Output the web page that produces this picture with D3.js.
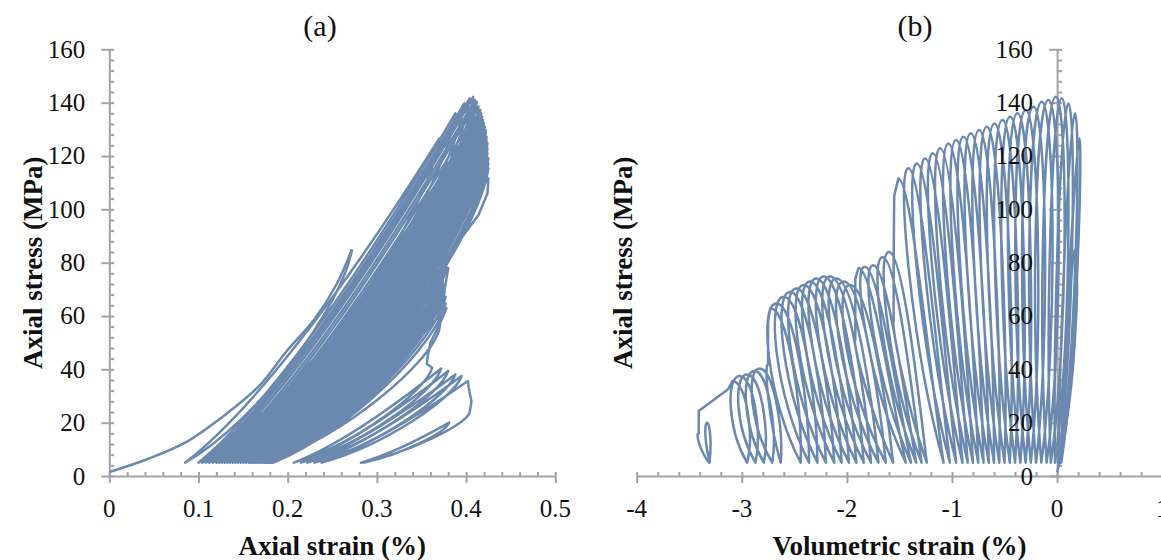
<!DOCTYPE html>
<html>
<head>
<meta charset="utf-8">
<script src="https://cdn.jsdelivr.net/npm/d3@7"></script>
<style>
  body { margin: 0; background: #fff; }
  svg { display: block; }
  text { font-family: "Liberation Serif", "Times New Roman", serif; fill: #111; }
</style>
</head>
<body>
<svg id="chart" width="1161" height="560"></svg>
<script>
// tick labels
const xTicksA = [0, 0.1, 0.2, 0.3, 0.4, 0.5];
const xTicksB = [-4, -3, -2, -1, 0, 1];
const yTicks = [0, 20, 40, 60, 80, 100, 120, 140, 160];

// cycles, in time order (stress in MPa, strains in %)
const valleyStress = 5;
const peakStress = [85, 126.6, 136, 139.7, 141.6, 142.2, 141, 140.3, 138.5, 137.2, 136, 134.7, 133.5,
  132.2, 131, 129.7, 128.5, 127.2, 126, 124.7, 122.9, 121, 119.1, 117.2, 115.4, 111.6,
  84, 82, 79, 78.5, 78,
  71.6, 72.9, 74.1, 74.8, 74.8, 74.1, 72.9, 71.6, 70.3, 69, 67.2, 64.7, 62.9,
  40.3, 39.4, 38.1, 37.5, 35.6,
  20];
const axialMin = [0, 0.085, 0.1, 0.104, 0.108, 0.112, 0.116, 0.12, 0.123, 0.126, 0.129, 0.132, 0.135,
  0.138, 0.141, 0.144, 0.147, 0.15, 0.153, 0.156, 0.158, 0.16, 0.162, 0.164, 0.166, 0.168,
  0.17, 0.172, 0.174, 0.175, 0.176,
  0.177, 0.178, 0.178, 0.179, 0.179, 0.18, 0.18, 0.181, 0.181, 0.182, 0.182, 0.183, 0.184,
  0.207, 0.215, 0.222, 0.23, 0.238,
  0.282];
const axialPeak = [0.272, 0.37, 0.388, 0.398, 0.404, 0.408, 0.41, 0.412, 0.414, 0.416, 0.417, 0.418, 0.419,
  0.42, 0.421, 0.422, 0.422, 0.423, 0.423, 0.424, 0.424, 0.424, 0.425, 0.425, 0.425, 0.425,
  0.372, 0.374, 0.376, 0.378, 0.38,
  0.366, 0.368, 0.37, 0.371, 0.372, 0.373, 0.374, 0.375, 0.375, 0.376, 0.377, 0.377, 0.378,
  0.372, 0.38, 0.388, 0.395, 0.402,
  0.381];
const volMin = [0, 0.04, 0.03, 0.01, -0.02, -0.06, -0.1, -0.15, -0.2, -0.25, -0.3, -0.35, -0.4,
  -0.45, -0.5, -0.55, -0.6, -0.65, -0.7, -0.75, -0.8, -0.85, -0.9, -0.96, -1.02, -1.08,
  -1.24, -1.29, -1.34, -1.39, -1.44,
  -1.56, -1.63, -1.7, -1.77, -1.84, -1.91, -1.98, -2.05, -2.12, -2.2, -2.28, -2.36, -2.44,
  -2.63, -2.71, -2.79, -2.87, -2.95,
  -3.31];
const volPeak = [0.17, 0.212, 0.171, 0.108, 0.045, -0.012, -0.083, -0.146, -0.225, -0.298, -0.377, -0.447, -0.52,
  -0.596, -0.669, -0.742, -0.821, -0.891, -0.961, -1.034, -1.113, -1.183, -1.256, -1.335, -1.415, -1.51,
  -1.6, -1.66, -1.75, -1.83, -1.89,
  -1.97, -2.03, -2.1, -2.16, -2.22, -2.29, -2.35, -2.41, -2.48, -2.54, -2.6, -2.67, -2.73,
  -2.83, -2.88, -2.95, -3.02, -3.09,
  -3.33];
const volLoopWidth = [0.03, 0.03, 0.05, 0.07, 0.09, 0.11, 0.12, 0.12, 0.12, 0.12, 0.12, 0.12, 0.12,
  0.12, 0.12, 0.12, 0.12, 0.12, 0.12, 0.12, 0.12, 0.12, 0.12, 0.12, 0.12, 0.12,
  0.13, 0.13, 0.13, 0.13, 0.13,
  0.17, 0.17, 0.17, 0.17, 0.17, 0.17, 0.17, 0.17, 0.17, 0.17, 0.17, 0.17, 0.17,
  0.13, 0.13, 0.13, 0.13, 0.13,
  0.03];
const axialEnd = 0.285;
const volEnd = -3.30;

// first loading curve
const initialAxial = [[0, 1.5], [0.04, 6], [0.085, 12.5], [0.13, 23], [0.168, 33.8], [0.199, 46.9],
  [0.23, 58.8], [0.255, 72], [0.272, 85]];
const initialVol = [[0, 1.5], [0.03, 6], [0.09, 20], [0.14, 36], [0.175, 55], [0.19, 72], [0.17, 85]];

// stress drops after some peaks
const dropCycles = [25, 30, 43, 48];
const dropAxial = [
  [[0.424, 106], [0.414, 98], [0.392, 88], [0.366, 78], [0.36, 60]],
  [[0.376, 70], [0.37, 55]],
  [[0.371, 57.5], [0.36, 50], [0.357, 45], [0.356, 42], [0.362, 40.6]],
  [[0.403, 33], [0.406, 28], [0.404, 23.7]]
];
const dropVol = [
  [[-1.55, 105], [-1.555, 80], [-1.555, 58]],
  [[-1.92, 74], [-1.92, 51]],
  [[-2.75, 58], [-2.75, 42]],
  [[-3.13, 32.5], [-3.41, 24.4], [-3.41, 16]]
];

const lineColor = "#6b88ae";
const axisColor = "#a3a3a3";

const svg = d3.select("#chart");

const y = d3.scaleLinear().domain([0, 160]).range([476, 49.3]);
const xA = d3.scaleLinear().domain([0, 0.5]).range([109.3, 555.3]);
const xB = d3.scaleLinear().domain([-4, 1]).range([636.7, 1162.2]);

// axes lines and ticks (drawn under the data)
function drawAxes(x, xTicks, minorStep, yAxisAt) {
    const minorX = d3.range(xTicks[0], xTicks[xTicks.length - 1] + 1e-9, minorStep)
        .filter(v => !xTicks.some(t => Math.abs(t - v) < 1e-9));
    const minorY = d3.range(0, 160.01, 4).filter(v => v % 20 !== 0);

    const gx = svg.append("g")
        .attr("class", "axis x")
        .attr("transform", `translate(0, ${y(0)})`)
        .call(d3.axisBottom(x).tickValues(xTicks).tickSize(7).tickSizeOuter(0).tickFormat(""));
    gx.selectAll(".tick line").attr("y1", -4);
    svg.append("g")
        .attr("transform", `translate(0, ${y(0)})`)
        .call(d3.axisTop(x).tickValues(minorX).tickSize(4).tickFormat(""))
        .select(".domain").remove();

    const gy = svg.append("g")
        .attr("class", "axis y")
        .attr("transform", `translate(${x(yAxisAt)}, 0)`)
        .call(d3.axisLeft(y).tickValues(yTicks).tickSize(8).tickSizeOuter(0).tickFormat(""));
    gy.selectAll(".tick line").attr("x1", 5);
    svg.append("g")
        .attr("transform", `translate(${x(yAxisAt)}, 0)`)
        .call(d3.axisRight(y).tickValues(minorY).tickSize(5).tickFormat(""))
        .select(".domain").remove();
}

drawAxes(xA, xTicksA, 0.02, 0);
drawAxes(xB, xTicksB, 0.2, 0);

svg.selectAll(".domain, .tick line")
    .attr("stroke", axisColor)
    .attr("stroke-width", 2);

// loop paths
function axialPath() {
    const p = d3.path();
    const n = peakStress.length;
    p.moveTo(xA(axialPeak[0]), y(peakStress[0]));
    for (let i = 0; i < n; i++) {
        const s = axialMin[i], e = axialPeak[i], pk = peakStress[i];
        if (i > 0) {
            const d = e - s;
            p.bezierCurveTo(
                xA(s + 0.25 * d), y(valleyStress + 0.15 * (pk - valleyStress)),
                xA(s + 0.6 * d), y(valleyStress + 0.5 * (pk - valleyStress)),
                xA(e), y(pk));
        }
        let ue = e, up = pk;
        const k = dropCycles.indexOf(i);
        if (k >= 0) {
            dropAxial[k].forEach(([sx, sy]) => p.lineTo(xA(sx), y(sy)));
            [ue, up] = dropAxial[k][dropAxial[k].length - 1];
        }
        const next = i + 1 < n ? axialMin[i + 1] : axialEnd;
        const d2 = ue - next;
        p.bezierCurveTo(
            xA(ue - 0.05 * d2), y(up - 0.25 * (up - valleyStress)),
            xA(next + 0.45 * d2), y(valleyStress + 0.2 * (up - valleyStress)),
            xA(next), y(valleyStress));
    }
    return p.toString();
}

function volPath() {
    const p = d3.path();
    const n = peakStress.length;
    p.moveTo(xB(volPeak[0]), y(peakStress[0]));
    for (let i = 0; i < n; i++) {
        const b = volMin[i], t = volPeak[i], pk = peakStress[i], w = volLoopWidth[i];
        if (i > 0) {
            p.bezierCurveTo(
                xB(t + 1.3 * w + 0.3 * (b - t)), y(valleyStress + 0.35 * (pk - valleyStress)),
                xB(t + w), y(pk),
                xB(t), y(pk));
        }
        let ut = t, up = pk, uw = w;
        const k = dropCycles.indexOf(i);
        if (k >= 0) {
            dropVol[k].forEach(([sx, sy]) => p.lineTo(xB(sx), y(sy)));
            [ut, up] = dropVol[k][dropVol[k].length - 1];
            uw = w / 4;
        }
        const next = i + 1 < n ? volMin[i + 1] : volEnd;
        p.bezierCurveTo(
            xB(ut - uw), y(up),
            xB(ut - 1.2 * uw + 0.5 * (next - ut)), y(valleyStress + 0.4 * (up - valleyStress)),
            xB(next), y(valleyStress));
    }
    return p.toString();
}

const firstLoad = (x) => d3.line()
    .x(d => x(d[0]))
    .y(d => y(d[1]))
    .curve(d3.curveCatmullRom);

const dataLayer = svg.append("g").attr("class", "lines")
    .attr("fill", "none")
    .attr("stroke", lineColor)
    .attr("stroke-width", 2.5)
    .attr("stroke-linejoin", "round");

dataLayer.append("path").attr("d", firstLoad(xA)(initialAxial));
dataLayer.append("path").attr("d", axialPath());
dataLayer.append("path").attr("d", firstLoad(xB)(initialVol));
dataLayer.append("path").attr("d", volPath());

// tick labels on top
function tickLabels(x, xTicks) {
    svg.append("g")
        .selectAll("text")
        .data(xTicks)
        .enter()
        .append("text")
        .attr("x", d => x(d))
        .attr("y", 517)
        .attr("text-anchor", "middle")
        .attr("font-size", 25)
        .text(d => String(d));

    svg.append("g")
        .selectAll("text")
        .data(yTicks)
        .enter()
        .append("text")
        .attr("x", x(0) - 24)
        .attr("y", d => y(d) + 8.5)
        .attr("text-anchor", "end")
        .attr("font-size", 25)
        .text(d => String(d));
}
tickLabels(xA, xTicksA);
tickLabels(xB, xTicksB);

// titles
const titles = [
    { text: "(a)", x: 320, y: 36 },
    { text: "(b)", x: 915, y: 36 }
];
svg.selectAll(".title")
    .data(titles)
    .enter()
    .append("text")
    .attr("class", "title")
    .attr("x", d => d.x)
    .attr("y", d => d.y)
    .attr("text-anchor", "middle")
    .attr("font-size", 30)
    .text(d => d.text);

svg.append("text")
    .attr("x", (xA.range()[0] + xA.range()[1]) / 2)
    .attr("y", 555)
    .attr("text-anchor", "middle")
    .attr("font-size", 27)
    .attr("font-weight", "bold")
    .text("Axial strain (%)");

svg.append("text")
    .attr("x", (xB.range()[0] + xB.range()[1]) / 2)
    .attr("y", 555)
    .attr("text-anchor", "middle")
    .attr("font-size", 27)
    .attr("font-weight", "bold")
    .text("Volumetric strain (%)");

[42, 632].forEach(tx => {
    svg.append("text")
        .attr("transform", `translate(${tx}, ${(y(0) + y(160)) / 2}) rotate(-90)`)
        .attr("text-anchor", "middle")
        .attr("font-size", 27)
        .attr("font-weight", "bold")
        .text("Axial stress (MPa)");
});
</script>
</body>
</html>
